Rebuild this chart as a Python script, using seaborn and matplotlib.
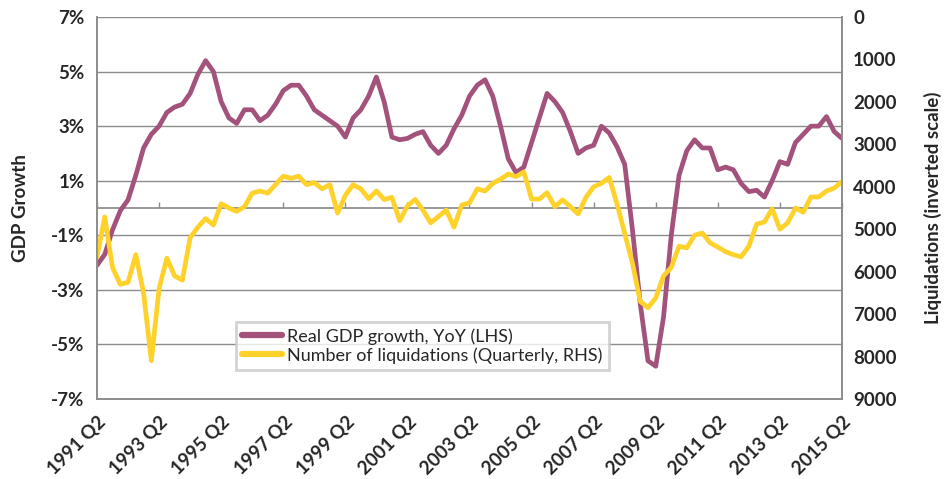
import numpy as np
import matplotlib
matplotlib.use("Agg")
import matplotlib.pyplot as plt
import seaborn as sns
import pandas as pd

# quarterly data, 1991 Q2 .. 2015 Q2 (97 quarters)
quarters = [f"{y} Q{q}" for y in range(1991, 2016) for q in range(1, 5)][1:98]

gdp_growth = [
    -2.1, -1.7, -0.8, -0.1, 0.3, 1.2, 2.2, 2.7, 3.0, 3.5,
    3.7, 3.8, 4.2, 4.9, 5.4, 5.0, 3.9, 3.3, 3.1, 3.6,
    3.6, 3.2, 3.4, 3.8, 4.3, 4.5, 4.5, 4.1, 3.6, 3.4,
    3.2, 3.0, 2.6, 3.3, 3.6, 4.1, 4.8, 3.9, 2.6, 2.5,
    2.55, 2.7, 2.8, 2.3, 2.0, 2.3, 2.9, 3.4, 4.1, 4.5,
    4.7, 4.1, 3.0, 1.8, 1.3, 1.5, 2.4, 3.3, 4.2, 3.9,
    3.5, 2.8, 2.0, 2.2, 2.3, 3.0, 2.75, 2.25, 1.6, -0.8,
    -3.5, -5.6, -5.8, -4.0, -1.0, 1.2, 2.1, 2.5, 2.2, 2.2,
    1.4, 1.5, 1.4, 0.9, 0.6, 0.65, 0.4, 1.0, 1.7, 1.6,
    2.4, 2.7, 3.0, 3.0, 3.35, 2.8, 2.55,
]

liquidations = [
    5650, 4710, 5900, 6300, 6250, 5600, 6500, 8100, 6400, 5680,
    6100, 6200, 5200, 4950, 4750, 4900, 4400, 4500, 4580, 4470,
    4150, 4100, 4150, 3950, 3750, 3800, 3750, 3950, 3900, 4050,
    3950, 4620, 4200, 3950, 4050, 4280, 4100, 4300, 4250, 4800,
    4450, 4300, 4550, 4850, 4700, 4550, 4950, 4430, 4380, 4050,
    4100, 3920, 3820, 3700, 3760, 3650, 4290, 4290, 4140, 4470,
    4310, 4470, 4640, 4250, 4000, 3920, 3780, 4400, 5100, 5800,
    6700, 6850, 6620, 6100, 5900, 5400, 5440, 5140, 5090, 5320,
    5420, 5530, 5600, 5650, 5400, 4880, 4830, 4520, 5000, 4850,
    4500, 4600, 4240, 4240, 4100, 4030, 3880,
]

df = pd.DataFrame({"idx": np.arange(len(quarters)), "quarter": quarters,
                   "gdp": gdp_growth, "liq": liquidations})

sns.set_theme(style="white")
plt.rcParams["font.family"] = ["Lato", "DejaVu Sans"]

purple = "#a3527b"
yellow = "#fed22b"
grey = "#8c8c8c"
fs = 13.5

fig = plt.figure(figsize=(9.48, 4.79), dpi=100)
ax = fig.add_axes([97 / 948, 80 / 479, 745 / 948, 382 / 479])
ax2 = ax.twinx()

sns.lineplot(data=df, x="idx", y="gdp", ax=ax, color=purple, lw=3.4,
             label="Real GDP growth, YoY (LHS)", legend=False)
sns.lineplot(data=df, x="idx", y="liq", ax=ax2, color=yellow, lw=3.4,
             label="Number of liquidations (Quarterly, RHS)", legend=False)

ax.set_xlim(0, len(quarters) - 1)
ax.set_ylim(-7, 7)
ax.set_yticks(np.arange(-7, 8, 2))
ax.set_yticklabels([f"{v}%" for v in range(-7, 8, 2)], fontweight="bold", fontsize=fs)
ax.yaxis.grid(True, color=grey, lw=1)
ax.set_axisbelow(True)

ax2.set_ylim(9000, 0)
ax2.set_yticks(np.arange(0, 9001, 1000))
ax2.set_yticklabels([str(v) for v in range(0, 9001, 1000)], fontweight="bold", fontsize=fs)

xt = list(range(0, len(quarters), 8))
ax.set_xticks(xt)
ax.set_xticklabels([quarters[i] for i in xt], rotation=45, ha="right",
                   rotation_mode="anchor", fontweight="bold", fontsize=fs)
ax.tick_params(axis="x", direction="out", length=6, width=1, color=grey, pad=4)
ax.tick_params(axis="y", length=0, pad=9)
ax2.tick_params(axis="y", length=0, pad=8)

# category axis crossing at 0%
zero = ax.secondary_xaxis(0.5)
zero.set_xticks(xt)
zero.set_xticklabels([])
zero.tick_params(direction="out", length=4, width=1, color=grey)
zero.spines["bottom"].set_color(grey)
zero.spines["top"].set_color(grey)

for a in (ax, ax2):
    a.spines["top"].set_visible(False)
    for s in ("left", "right", "bottom"):
        a.spines[s].set_color(grey)
        a.spines[s].set_linewidth(1.2)
    a.set_xlabel("")

ax.set_ylabel("GDP Growth", fontweight="bold", fontsize=fs, labelpad=16)
ax2.set_ylabel("Liquidations (inverted scale)", fontweight="bold", fontsize=fs, labelpad=20)

h1, l1 = ax.get_legend_handles_labels()
h2, l2 = ax2.get_legend_handles_labels()
leg = ax2.legend(h1 + h2, l1 + l2, loc="lower left", bbox_to_anchor=(0.174, 0.052),
                 frameon=True, fancybox=False, fontsize=13, handlelength=2.2,
                 borderpad=0.35, labelspacing=0.15, handletextpad=0.3)
leg.get_frame().set_edgecolor("#c8c8c8")
leg.get_frame().set_linewidth(2)
for line in leg.get_lines():
    line.set_linewidth(4.5)

fig.savefig("out.png", dpi=100)
